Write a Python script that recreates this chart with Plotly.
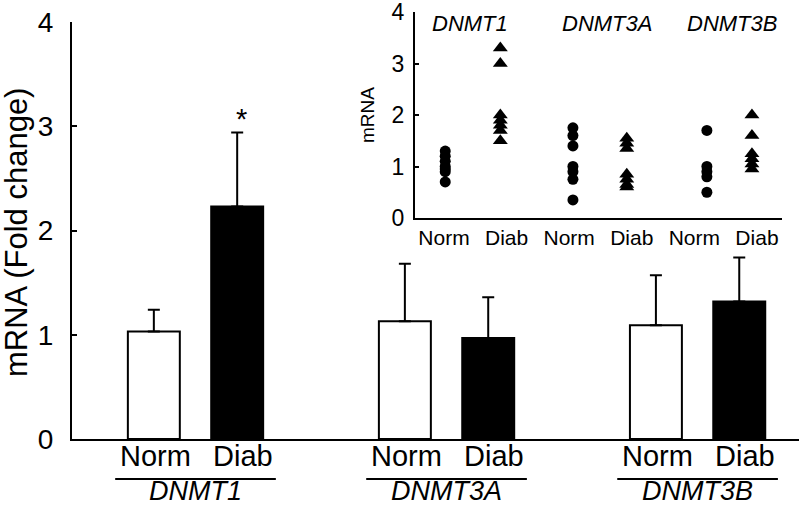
import plotly.graph_objects as go

# ---------------- data ----------------
genes = ["DNMT1", "DNMT3A", "DNMT3B"]
group_labels = ["Norm", "Diab"]
norm_mean = [1.03, 1.13, 1.09]
norm_err = [0.21, 0.55, 0.48]
diab_mean = [2.23, 0.97, 1.32]
diab_err = [0.71, 0.39, 0.42]
y_ticks = [0, 1, 2, 3, 4]
signif = ["*", "", ""]

# inset: individual values
inset_ticktext = ["Norm", "Diab", "Norm", "Diab", "Norm", "Diab"]
inset_tickpos = [0, 1, 2, 3, 4, 5]
inset_x = [0.02, 0.90, 2.06, 2.92, 4.20, 4.92]
inset_values = [
    [1.3, 1.2, 1.1, 1.0, 0.95, 0.9, 0.7],        # Norm DNMT1
    [3.3, 3.0, 2.0, 1.9, 1.8, 1.7, 1.5],          # Diab DNMT1
    [1.75, 1.6, 1.4, 1.0, 0.9, 0.75, 0.35],       # Norm DNMT3A
    [1.55, 1.45, 1.35, 0.85, 0.75, 0.65, 0.6],    # Diab DNMT3A
    [1.7, 1.0, 0.9, 0.8, 0.5],                    # Norm DNMT3B
    [2.0, 1.6, 1.25, 1.15, 1.05, 0.95],           # Diab DNMT3B
]
inset_gene_pos = [0.415, 2.6, 4.6]

FONT = "Liberation Sans, Arial, sans-serif"
W, H = 799, 507
group_pos = [0, 1, 2]
off = 0.166

fig = go.Figure()
fig.add_trace(go.Bar(
    x=[g - off for g in group_pos], y=norm_mean, width=0.207,
    marker=dict(color="white", line=dict(color="black", width=2)),
    error_y=dict(type="data", array=norm_err, arrayminus=[0] * 3, symmetric=False,
                 color="black", thickness=2, width=6),
    xaxis="x", yaxis="y", showlegend=False))
fig.add_trace(go.Bar(
    x=[g + off for g in group_pos], y=diab_mean, width=0.207,
    marker=dict(color="black", line=dict(color="black", width=2)),
    error_y=dict(type="data", array=diab_err, arrayminus=[0] * 3, symmetric=False,
                 color="black", thickness=2, width=6),
    xaxis="x", yaxis="y", showlegend=False))

for i, vals in enumerate(inset_values):
    fig.add_trace(go.Scatter(
        x=[inset_x[i]] * len(vals), y=vals, mode="markers",
        marker=dict(symbol="circle" if i % 2 == 0 else "triangle-up",
                    size=11 if i % 2 == 0 else 13, color="black"),
        xaxis="x2", yaxis="y2", showlegend=False))

annotations = []
shapes = []
for gi, g in enumerate(group_pos):
    annotations.append(dict(x=g - off, y=(H - 456) / H, xref="x", yref="paper",
                            text=group_labels[0], showarrow=False, xshift=2,
                            font=dict(family=FONT, size=29, color="black"),
                            yanchor="middle"))
    annotations.append(dict(x=g + off, y=(H - 456) / H, xref="x", yref="paper",
                            text=group_labels[1], showarrow=False, xshift=6,
                            font=dict(family=FONT, size=29, color="black"),
                            yanchor="middle"))
    annotations.append(dict(x=g, y=0, xref="x", yref="paper",
                            text="<i>" + genes[gi] + "</i>", showarrow=False,
                            font=dict(family=FONT, size=27, color="black"),
                            yanchor="bottom", borderpad=0))
    shapes.append(dict(type="line", xref="x", yref="paper", x0=g - 0.32, x1=g + 0.32,
                       y0=(H - 479) / H, y1=(H - 479) / H,
                       line=dict(color="black", width=2)))
    if signif[gi]:
        annotations.append(dict(x=g + off, y=diab_mean[gi] + diab_err[gi], xref="x", yref="y",
                                text=signif[gi], showarrow=False, yanchor="bottom",
                                xshift=4, yshift=-4,
                                font=dict(family=FONT, size=29, color="black")))

annotations.append(dict(x=16 / W, y=(H - 233) / H, xref="paper", yref="paper",
                        text="mRNA (Fold change)", textangle=-90, showarrow=False,
                        font=dict(family=FONT, size=31, color="black"),
                        xanchor="center", yanchor="middle"))
annotations.append(dict(x=367 / W, y=(H - 115) / H, xref="paper", yref="paper",
                        text="mRNA", textangle=-90, showarrow=False,
                        font=dict(family=FONT, size=19, color="black"),
                        xanchor="center", yanchor="middle"))
for gi, p in enumerate(inset_gene_pos):
    annotations.append(dict(x=p, y=3.78, xref="x2", yref="y2",
                            text="<i>" + genes[gi] + "</i>", showarrow=False,
                            font=dict(family=FONT, size=22, color="black"),
                            yanchor="middle"))

fig.update_layout(
    width=W, height=H, margin=dict(l=0, r=0, t=0, b=0, pad=0, autoexpand=False),
    paper_bgcolor="white", plot_bgcolor="white",
    font=dict(family=FONT, color="black"),
    xaxis=dict(domain=[72 / W, 1.0], range=[-0.492, 2.404], anchor="y",
               showline=True, linecolor="black", linewidth=2, automargin=False,
               showticklabels=False, ticks="", showgrid=False, zeroline=False),
    yaxis=dict(domain=[(H - 439) / H, (H - 22) / H], range=[0, 4], anchor="x",
               tickvals=y_ticks, showline=True, linecolor="black", linewidth=2,
               ticks="inside", ticklen=5, tickwidth=2, tickcolor="black",
               tickfont=dict(family=FONT, size=28, color="black"), automargin=False,
               ticklabelstandoff=11, ticklabeloverflow="allow",
               showgrid=False, zeroline=False),
    xaxis2=dict(domain=[415 / W, 782 / W], range=[-0.463, 5.4], anchor="y2",
                tickvals=inset_tickpos, ticktext=inset_ticktext, automargin=False,
                showline=True, linecolor="black", linewidth=2, ticks="",
                tickfont=dict(family=FONT, size=21, color="black"),
                ticklabeloverflow="allow", showgrid=False, zeroline=False),
    yaxis2=dict(domain=[(H - 218) / H, (H - 12) / H], range=[0, 4], anchor="x2",
                tickvals=y_ticks, showline=True, linecolor="black", linewidth=2,
                ticks="inside", ticklen=4, tickwidth=2, tickcolor="black", automargin=False,
                tickfont=dict(family=FONT, size=23, color="black"),
                ticklabelstandoff=4, ticklabeloverflow="allow",
                showgrid=False, zeroline=False),
    annotations=annotations, shapes=shapes,
)

fig.write_html("out.html", config={"displayModeBar": False},
               post_script="document.body.style.margin='0';")
